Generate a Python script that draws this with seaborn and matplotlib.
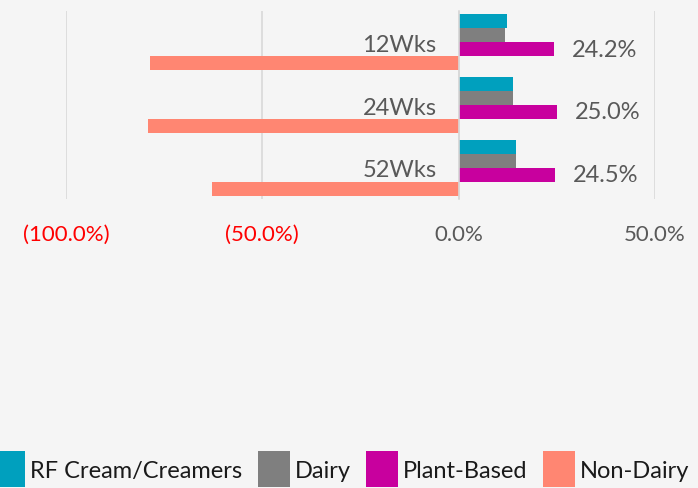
import pandas as pd
import numpy as np
import matplotlib.pyplot as plt
import seaborn as sns

# data (percent)
periods = ['12Wks', '24Wks', '52Wks']
segments = ['RF Cream/Creamers', 'Dairy', 'Plant-Based', 'Non-Dairy']
rf_cream = [12.4, 13.8, 14.5]
dairy = [11.8, 13.8, 14.5]
plant_based = [24.2, 25.0, 24.5]
non_dairy = [-78.5, -79.2, -62.9]
plant_labels = ['24.2%', '25.0%', '24.5%']
x_ticks = [-100, -50, 0, 50]
x_tick_labels = ['(100.0%)', '(50.0%)', '0.0%', '50.0%']

colors = ['#00A0BE', '#7F7F7F', '#C8009E', '#FF8672']
bg = '#F5F5F5'

df = pd.DataFrame({
    'period': np.repeat(periods, len(segments)),
    'segment': segments * len(periods),
    'value': np.ravel(np.column_stack([rf_cream, dairy, plant_based, non_dairy])),
})

sns.set_style('white')
plt.rcParams['font.family'] = ['Lato', 'DejaVu Sans']

fig = plt.figure(figsize=(6.98, 4.89), dpi=100, facecolor=bg)
ax = fig.add_axes([66 / 698, 1 - 200 / 489, (655 - 66) / 698, 188 / 489])
ax.set_facecolor(bg)

sns.barplot(data=df, x='value', y='period', hue='segment', orient='h',
            palette=colors, saturation=1, width=0.89, linewidth=0, ax=ax)

ax.set_xlim(-100, 50)
ax.set_ylim(2.5, -0.5)
ax.set_xlabel('')
ax.set_ylabel('')

# gridlines
ax.xaxis.grid(True, color='#D9D9D9', lw=1.2)
ax.yaxis.grid(False)
ax.set_axisbelow(True)
for s in ['top', 'right', 'bottom']:
    ax.spines[s].set_visible(False)
ax.spines['left'].set_position(('data', 0))
ax.spines['left'].set_color('#D9D9D9')
ax.spines['left'].set_linewidth(1.2)

# category labels sit next to the zero line
ax.tick_params(axis='y', length=0, pad=16, labelsize=17, labelcolor='#595959')

ax.set_xticks(x_ticks)
ax.set_xticklabels(x_tick_labels)
ax.tick_params(axis='x', length=0, pad=18, labelsize=16)
for v, lab in zip(x_ticks, ax.get_xticklabels()):
    lab.set_color('#FF0000' if v < 0 else '#595959')

# data labels on plant-based bars
ax.bar_label(ax.containers[2], labels=plant_labels, padding=13,
             fontsize=17, color='#595959')

handles, labels = ax.get_legend_handles_labels()
ax.get_legend().remove()
fig.legend(handles, labels, loc='upper left',
           bbox_to_anchor=(-7 / 698, 1 - 452 / 489), ncol=4, frameon=False,
           fontsize=17, labelcolor='#1A1A1A', handlelength=1.36,
           handleheight=2.0, handletextpad=0.22, columnspacing=0.64,
           borderpad=0, borderaxespad=0)

fig.savefig('out.png', dpi=100, facecolor=bg)
